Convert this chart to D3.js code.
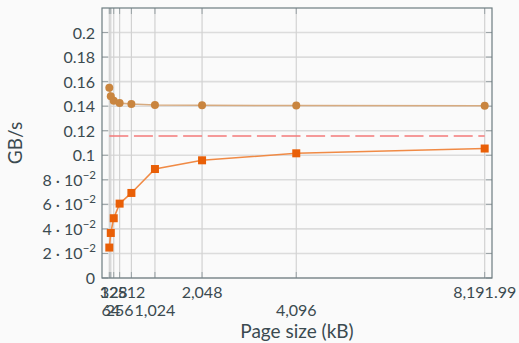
<!DOCTYPE html>
<html>
<head>
<meta charset="utf-8">
<script src="https://cdn.jsdelivr.net/npm/d3@7"></script>
<style>
  html, body { margin: 0; padding: 0; background: #fafafa; }
  svg { display: block; font-family: Lato, "DejaVu Sans", sans-serif; }
</style>
</head>
<body>
<div id="chart"></div>
<script>
// DATA
var pageSizes = [32, 64, 128, 256, 512, 1024, 2048, 4096, 8191.99];
var readRate = [0.155, 0.148, 0.1445, 0.1425, 0.1418, 0.1410, 0.1407, 0.1405, 0.1403];
var writeRate = [0.0248, 0.0367, 0.0487, 0.0606, 0.0693, 0.0888, 0.0959, 0.1016, 0.1055];
var limitRate = [0.1157];
var xTicks = [32, 64, 128, 256, 512, 1024, 2048, 4096, 8191.99];
var xTickLabels = ['32', '64', '128', '256', '512', '1,024', '2,048', '4,096', '8,191.99'];
var yTicks = [0, 0.02, 0.04, 0.06, 0.08, 0.1, 0.12, 0.14, 0.16, 0.18, 0.2];
var yTickLabels = ['0', '2', '4', '6', '8', '0.1', '0.12', '0.14', '0.16', '0.18', '0.2'];

// SIZE
var width = 519, height = 343;
var margin = { left: 102, right: 27, top: 8, bottom: 65 };
var textColor = '#3b4a50';

var svg = d3.select('#chart').append('svg')
   .attr('width', width)
   .attr('height', height);

// SCALES
var xScale = d3.scaleLinear()
   .domain([-127, 8351])
   .range([margin.left, width - margin.right]);

var yScale = d3.scaleLinear()
   .domain([0, 0.22])
   .range([height - margin.bottom, margin.top]);

var x0 = xScale.range()[0], x1 = xScale.range()[1];
var y0 = yScale.range()[0], y1 = yScale.range()[1];

// GRID
svg.append('g')
   .selectAll('line')
   .data(yTicks)
   .enter().append('line')
      .attr('x1', x0).attr('x2', x1)
      .attr('y1', d => yScale(d)).attr('y2', d => yScale(d))
      .attr('stroke', '#dcdcdc')
      .attr('stroke-width', 1.6);

svg.append('g')
   .selectAll('line')
   .data(xTicks)
   .enter().append('line')
      .attr('x1', d => xScale(d)).attr('x2', d => xScale(d))
      .attr('y1', y0).attr('y2', y1)
      .attr('stroke', '#d2d2d2')
      .attr('stroke-width', 1.2);

// TICK MARKS ON ALL FOUR SIDES
var tickLen = 6;
var ticks = svg.append('g').attr('stroke', '#9aa3a6').attr('stroke-width', 1);
xTicks.forEach(d => {
   ticks.append('line').attr('x1', xScale(d)).attr('x2', xScale(d)).attr('y1', y0).attr('y2', y0 - tickLen);
   ticks.append('line').attr('x1', xScale(d)).attr('x2', xScale(d)).attr('y1', y1).attr('y2', y1 + tickLen);
});
yTicks.forEach(d => {
   ticks.append('line').attr('x1', x0).attr('x2', x0 + tickLen).attr('y1', yScale(d)).attr('y2', yScale(d));
   ticks.append('line').attr('x1', x1).attr('x2', x1 - tickLen).attr('y1', yScale(d)).attr('y2', yScale(d));
});

// FRAME
svg.append('rect')
   .attr('x', x0).attr('y', y1)
   .attr('width', x1 - x0).attr('height', y0 - y1)
   .attr('fill', 'none')
   .attr('stroke', '#6d7c80')
   .attr('stroke-width', 1.2);

// LIMIT LINE
svg.append('g')
   .selectAll('line')
   .data(limitRate)
   .enter().append('line')
      .attr('x1', xScale(pageSizes[0]))
      .attr('x2', xScale(pageSizes[pageSizes.length - 1]))
      .attr('y1', d => yScale(d)).attr('y2', d => yScale(d))
      .attr('stroke', '#f47a7a')
      .attr('stroke-width', 1.6)
      .attr('stroke-dasharray', '19,5.6');

// LINE GENERATOR
var pathify = d3.line()
   .x((d, i) => xScale(pageSizes[i]))
   .y(d => yScale(d));

// READ SERIES
svg.append('path')
   .attr('d', pathify(readRate))
   .attr('fill', 'none')
   .attr('stroke', '#d7ab80')
   .attr('stroke-width', 1.6);

svg.append('g')
   .selectAll('circle')
   .data(readRate)
   .enter().append('circle')
      .attr('cx', (d, i) => xScale(pageSizes[i]))
      .attr('cy', d => yScale(d))
      .attr('r', 4)
      .attr('fill', '#c9853f');

// WRITE SERIES
svg.append('path')
   .attr('d', pathify(writeRate))
   .attr('fill', 'none')
   .attr('stroke', '#f08a45')
   .attr('stroke-width', 1.6);

svg.append('g')
   .selectAll('rect')
   .data(writeRate)
   .enter().append('rect')
      .attr('x', (d, i) => xScale(pageSizes[i]) - 4)
      .attr('y', d => yScale(d) - 4)
      .attr('width', 8)
      .attr('height', 8)
      .attr('fill', '#e95f07');

// Y TICK LABELS
var yLabels = svg.append('g')
   .attr('fill', textColor)
   .attr('font-size', 16)
   .attr('text-anchor', 'end');

yTicks.forEach((d, i) => {
   var t = yLabels.append('text')
      .attr('x', x0 - 7)
      .attr('y', yScale(d) + 6);
   if (d > 0 && d < 0.1) {
      t.attr('x', x0 - 6);
      t.append('tspan').text(yTickLabels[i] + ' \u00b7 10');
      t.append('tspan').attr('dy', -7).attr('font-size', 11.5).text('\u22122');
   } else {
      t.text(yTickLabels[i]);
   }
});

// X TICK LABELS (ALTERNATING ROWS)
svg.append('g')
   .attr('fill', textColor)
   .attr('font-size', 16)
   .attr('text-anchor', 'middle')
   .selectAll('text')
   .data(xTicks)
   .enter().append('text')
      .attr('x', d => xScale(d))
      .attr('y', (d, i) => i % 2 === 0 || i === xTicks.length - 1 ? y0 + 20 : y0 + 38)
      .text((d, i) => xTickLabels[i]);

// AXIS TITLES
svg.append('text')
   .attr('x', (x0 + x1) / 2)
   .attr('y', 338)
   .attr('text-anchor', 'middle')
   .attr('fill', textColor)
   .attr('font-size', 19)
   .text('Page size (kB)');

svg.append('text')
   .attr('transform', 'translate(22,' + ((y0 + y1) / 2) + ') rotate(-90)')
   .attr('text-anchor', 'middle')
   .attr('fill', textColor)
   .attr('font-size', 19)
   .text('GB/s');
</script>
</body>
</html>
